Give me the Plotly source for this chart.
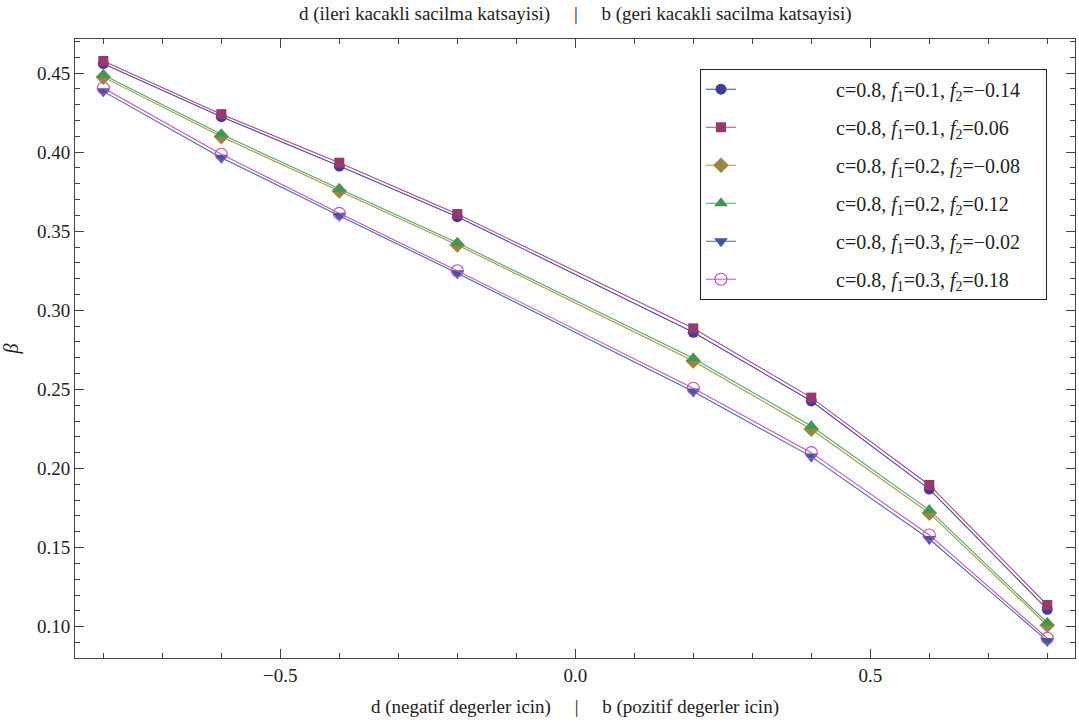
import plotly.graph_objects as go

x_vals = [-0.8, -0.6, -0.4, -0.2, 0.2, 0.4, 0.6, 0.8]

beta_f1_01_f2_m014 = [0.4559, 0.4224, 0.3912, 0.3592, 0.2861, 0.2427, 0.1870, 0.1110]
beta_f1_01_f2_006 = [0.4576, 0.4240, 0.3933, 0.3609, 0.2886, 0.2448, 0.1896, 0.1137]
beta_f1_02_f2_m008 = [0.4474, 0.4098, 0.3754, 0.3413, 0.2680, 0.2248, 0.1718, 0.1009]
beta_f1_02_f2_012 = [0.4487, 0.4113, 0.3769, 0.3427, 0.2697, 0.2269, 0.1737, 0.1025]
beta_f1_03_f2_m002 = [0.4384, 0.3965, 0.3598, 0.3234, 0.2486, 0.2075, 0.1554, 0.0910]
beta_f1_03_f2_018 = [0.4405, 0.3986, 0.3613, 0.3250, 0.2507, 0.2100, 0.1580, 0.0927]

series_labels = [
    "c=0.8, <i>f</i><sub>1</sub>=0.1, <i>f</i><sub>2</sub>=\u22120.14",
    "c=0.8, <i>f</i><sub>1</sub>=0.1, <i>f</i><sub>2</sub>=0.06",
    "c=0.8, <i>f</i><sub>1</sub>=0.2, <i>f</i><sub>2</sub>=\u22120.08",
    "c=0.8, <i>f</i><sub>1</sub>=0.2, <i>f</i><sub>2</sub>=0.12",
    "c=0.8, <i>f</i><sub>1</sub>=0.3, <i>f</i><sub>2</sub>=\u22120.02",
    "c=0.8, <i>f</i><sub>1</sub>=0.3, <i>f</i><sub>2</sub>=0.18",
]
series_values = [beta_f1_01_f2_m014, beta_f1_01_f2_006, beta_f1_02_f2_m008,
                 beta_f1_02_f2_012, beta_f1_03_f2_m002, beta_f1_03_f2_018]

marker_colors = ["rgb(61,61,160)", "rgb(153,56,110)", "rgb(153,135,61)",
                 "rgb(61,153,84)", "rgb(61,90,160)", "rgb(190,80,190)"]
line_colors = ["rgb(70,70,175)", "rgb(180,70,130)", "rgb(170,150,70)",
               "rgb(80,170,100)", "rgb(70,105,180)", "rgb(195,85,195)"]
symbols = ["circle", "square", "diamond", "triangle-up", "triangle-down", "circle-open"]
sizes = [11, 10, 12, 12, 12, 12]

fig = go.Figure()
for i, (lab, vals) in enumerate(zip(series_labels, series_values)):
    open_m = symbols[i].endswith("open")
    fig.add_trace(go.Scatter(
        x=x_vals, y=vals, mode="lines+markers",
        name="\u00a0" * 19 + lab + "\u00a0" * 4,
        legendgroup=f"g{i}",
        line=dict(color=line_colors[i], width=1.1),
        marker=dict(symbol=symbols[i], size=sizes[i], color=marker_colors[i],
                    line=dict(width=1.1 if open_m else 0, color=marker_colors[i])),
    ))

font_family = "Times New Roman, Liberation Serif, DejaVu Serif, serif"
sep = "\u00a0" * 5 + "|" + "\u00a0" * 5
axis_common = dict(
    showline=True, linecolor="#444", linewidth=1, mirror="allticks",
    ticks="inside", ticklen=9, tickwidth=1, tickcolor="#444",
    showgrid=False, zeroline=False,
    tickfont=dict(family=font_family, size=19, color="#222"),
)

fig.update_xaxes(
    range=[-0.848, 0.847], tickvals=[-0.5, 0.0, 0.5], tickformat=".1f",
    minor=dict(dtick=0.1, tick0=0, ticks="inside", ticklen=5, tickcolor="#444", showgrid=False),
    title=dict(text="d (negatif degerler icin)" + sep + "b (pozitif degerler icin)",
               font=dict(family=font_family, size=19, color="#222"), standoff=14),
    **axis_common,
)
fig.update_yaxes(
    range=[0.0802, 0.4715], dtick=0.05, tick0=0.1, tickformat=".2f",
    minor=dict(dtick=0.01, tick0=0, ticks="inside", ticklen=5, tickcolor="#444", showgrid=False),
    title=dict(text="<i>\u03b2</i>", font=dict(family=font_family, size=20, color="#222"), standoff=14),
    **axis_common,
)

fig.update_layout(
    width=1079, height=722,
    margin=dict(l=75, r=4, t=39, b=64),
    paper_bgcolor="white", plot_bgcolor="white",
    font=dict(family=font_family, size=19, color="#222"),
    legend=dict(
        x=0.625, y=0.952, xanchor="left", yanchor="top",
        bgcolor="white", bordercolor="#222", borderwidth=1,
        font=dict(family=font_family, size=20, color="#222"),
        tracegroupgap=9, itemwidth=30,
    ),
    annotations=[dict(
        text="d (ileri kacakli sacilma katsayisi)" + sep + "b (geri kacakli sacilma katsayisi)",
        x=0.5, y=1, xref="paper", yref="paper", xanchor="center", yanchor="bottom",
        yshift=12, showarrow=False, font=dict(family=font_family, size=19, color="#222"),
    )],
)

fig.write_html("out.html")
